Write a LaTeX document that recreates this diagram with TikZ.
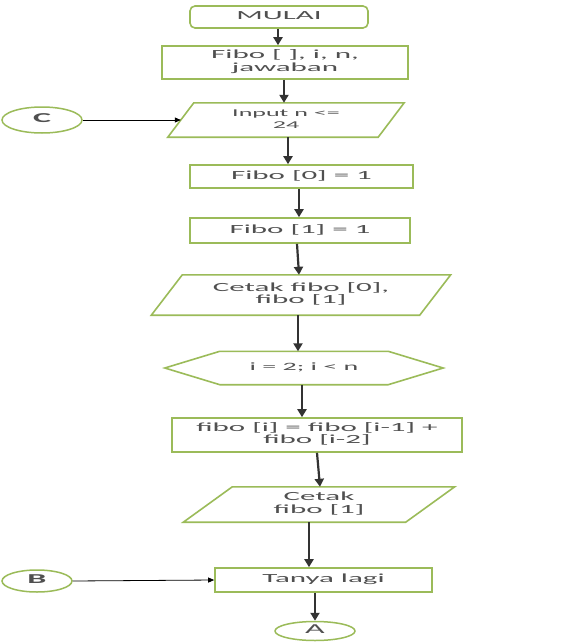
\documentclass[tikz,border=0pt]{standalone}
\usepackage{fontspec}
\setmainfont{Carlito}
\usepackage{graphicx}
\usetikzlibrary{arrows.meta,shapes.geometric}
\definecolor{gborder}{RGB}{155,187,89}
\definecolor{txtgray}{RGB}{80,80,80}
\newcommand{\sqt}[2][31]{\scalebox{1}[0.4]{\fontsize{#1}{32}\selectfont\begin{tabular}{@{}c@{}}#2\end{tabular}}}
\newcommand{\paraline}[2]{\draw[gline] ([xshift=#2]#1.north west) -- ([xshift=#2]#1.north east) -- ([xshift=-#2]#1.south east) -- ([xshift=-#2]#1.south west) -- cycle;}
\tikzset{
  gline/.style={draw=gborder, line width=1.6pt, line join=miter},
  box/.style={draw=gborder, line width=1.6pt, inner sep=0pt, text=txtgray},
  pbox/.style={inner sep=0pt, text=txtgray},
  conn/.style={ellipse, draw=gborder, line width=1.5pt, inner sep=0pt, text=txtgray},
  arr/.style={draw=black!80, line width=2.2pt, -{Triangle[length=8pt,width=9pt]}},
  thinarr/.style={draw=black, line width=0.8pt, -{Triangle[length=6pt,width=5pt]}}
}
\begin{document}
\begin{tikzpicture}[x=1pt,y=-1pt]
\useasboundingbox (0,0) rectangle (577,643);
\fill[white] (0,0) rectangle (577,643);

\node[box, rounded corners=5pt, minimum width=178pt, minimum height=22pt] (mulai) at (279,17) {\sqt{MULAI}};
\node[box, minimum width=246pt, minimum height=33pt] (decl) at (285,62.5) {\sqt{Fibo [ ], i, n,\\jawaban}};
\node[pbox, minimum width=210pt, minimum height=34pt] (input) at (286,120) {\sqt[26]{Input n <=\\24}};
\paraline{input}{13pt}
\node[conn, minimum width=80pt, minimum height=26pt] (C) at (42,120) {\sqt[34]{\bfseries C}};
\node[box, minimum width=223pt, minimum height=23pt] (f0) at (301.5,176.5) {\sqt{Fibo [0] = 1}};
\node[box, minimum width=220pt, minimum height=25pt] (f1) at (300,230.5) {\sqt{Fibo [1] = 1}};
\node[pbox, minimum width=268pt, minimum height=40pt] (cetak1) at (301,295) {\sqt{Cetak fibo [0],\\fibo [1]}};
\paraline{cetak1}{15.5pt}
\node[pbox, minimum width=278pt, minimum height=33pt] (hex) at (304,368) {\sqt[28]{i = 2; i < n}};
\draw[gline] (hex.west) -- ([xshift=55pt]hex.north west) -- ([xshift=-55pt]hex.north east) -- (hex.east) -- ([xshift=-55pt]hex.south east) -- ([xshift=55pt]hex.south west) -- cycle;
\node[box, minimum width=290pt, minimum height=34pt] (fi) at (317,435) {\sqt{fibo [i] = fibo [i-1] +\\fibo [i-2]}};
\node[pbox, minimum width=222pt, minimum height=35pt] (cetak2) at (319,504.5) {\sqt{Cetak\\fibo [1]}};
\paraline{cetak2}{24.5pt}
\node[box, minimum width=217pt, minimum height=24pt] (tanya) at (323.5,580) {\sqt{Tanya lagi}};
\node[conn, minimum width=70pt, minimum height=22pt] (B) at (37,581) {\sqt[34]{\bfseries B}};
\node[conn, minimum width=80pt, minimum height=19pt] (A) at (315,631) {\sqt[34]{A}};

\draw[arr] ([xshift=-1pt]mulai.south) -- ([xshift=-7pt]decl.north);
\draw[arr] ([xshift=-1pt]decl.south) -- ([xshift=-2pt]input.north);
\draw[arr] ([xshift=2pt]input.south) -- ([xshift=-13.5pt]f0.north);
\draw[arr] ([xshift=-2.5pt]f0.south) -- ([xshift=-1pt]f1.north);
\draw[arr] ([xshift=-3pt]f1.south) -- ([xshift=-2pt]cetak1.north);
\draw[arr] ([xshift=-3pt]cetak1.south) -- ([xshift=-6pt]hex.north);
\draw[arr] ([xshift=-2pt]hex.south) -- ([xshift=-15pt]fi.north);
\draw[arr] (fi.south) -- ([xshift=1pt]cetak2.north);
\draw[arr] ([xshift=-10pt]cetak2.south) -- ([xshift=-14.5pt]tanya.north);
\draw[arr] ([xshift=-8.5pt]tanya.south) -- (A.north);
\draw[thinarr] (C.east) -- (input.west);
\draw[thinarr] (B.east) -- (tanya.west);
\end{tikzpicture}
\end{document}
